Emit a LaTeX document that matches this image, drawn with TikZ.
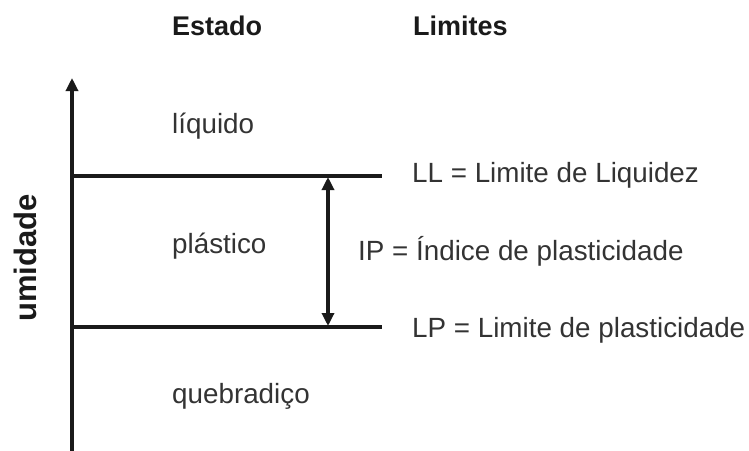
\documentclass[tikz,border=0pt]{standalone}
\usepackage{fontspec}
\setmainfont{Liberation Sans}
\usetikzlibrary{arrows.meta}
\definecolor{txt}{HTML}{333333}
\definecolor{ln}{HTML}{1A1A1A}
\begin{document}
\begin{tikzpicture}[x=1pt,y=-1pt,
  lbl/.style={inner sep=0pt,anchor=base west,text=txt,font=\fontsize{27.8}{30}\selectfont},
  hdr/.style={inner sep=0pt,anchor=base west,text=ln,font=\fontsize{27}{30}\selectfont\bfseries},
  lim/.style={draw=ln,line width=3.2pt},
  tip/.style={-{Triangle[length=13pt,width=12pt]}}]
\useasboundingbox (0,0) rectangle (749,450);
% headers
\node[hdr] (estado) at (172,35) {Estado};
\node[hdr] (limites) at (413,35) {Limites};
% axis
\coordinate (a0) at (72,452);
\coordinate (a1) at (72,78);
\draw[lim,tip] (a0) -- (a1);
% limit lines
\coordinate (ll0) at (72,176);
\coordinate (ll1) at (382,176);
\coordinate (lp0) at (72,327);
\coordinate (lp1) at (382,327);
\draw[lim] (ll0) -- (ll1);
\draw[lim] (lp0) -- (lp1);
\coordinate (ip0) at (328,177);
\coordinate (ip1) at (328,326);
\draw[lim,{Triangle[length=13pt,width=12pt]}-{Triangle[length=13pt,width=12pt]}] (ip0) -- (ip1);
% states
\node[lbl] (liq) at (172,133) {líquido};
\node[lbl] (pla) at (172,253) {plástico};
\node[lbl] (que) at (172,403) {quebradiço};
% limits text
\node[lbl] (LL) at (412,182) {LL = Limite de Liquidez};
\node[lbl] (IP) at (358,260) {IP = Índice de plasticidade};
\node[lbl] (LP) at (412,337) {LP = Limite de plasticidade};
% axis label
\node[inner sep=0pt,anchor=base west,rotate=90,text=ln,font=\fontsize{31}{34}\selectfont\bfseries] (umid) at (36,322) {umidade};
\end{tikzpicture}
\end{document}
